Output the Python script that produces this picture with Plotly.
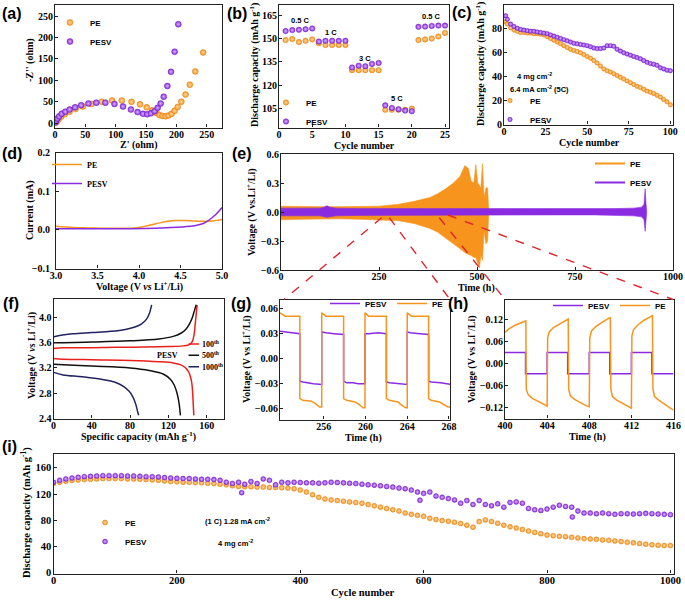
import plotly.graph_objects as go

# ======================= DATA =======================
# (a) Nyquist plots
a_pe_zre = [1, 3, 6, 10, 16, 24, 34, 46, 60, 77, 94, 110, 126, 140, 151, 160, 167, 172, 177, 182, 187, 192, 197, 202, 208, 215, 222, 231, 244]
a_pe_zim = [1, 4, 9, 15, 21, 27, 33, 39, 45, 50, 53, 53, 50, 44, 37, 30, 24, 19, 17, 16, 18, 22, 29, 38, 50, 67, 90, 121, 165]
a_sv_zre = [1, 2, 4, 7, 11, 17, 24, 33, 43, 55, 68, 83, 98, 112, 125, 136, 145, 152, 158, 164, 169, 174, 179, 185, 191, 197, 203]
a_sv_zim = [2, 6, 11, 16, 22, 27, 32, 37, 42, 46, 48, 48, 45, 39, 32, 26, 22, 21, 23, 28, 36, 46, 62, 87, 120, 167, 231]

# (b) rate performance
b_cycle = list(range(1, 26))
b_pe = [149, 149.6, 147.7, 148.5, 149.4, 146.9, 145.8, 145.8, 145.8, 145.8, 129.6, 129.6, 129.6, 129.6, 129.6,
        104, 104, 104, 104, 104.8, 149, 149.4, 150, 151.3, 153.6]
b_sv = [154.8, 155.4, 155.6, 156, 156.5, 148, 148.5, 148.5, 148.5, 148.5, 131.3, 132.5, 132.1, 133.6, 134.2,
        106.9, 105.2, 104.4, 103.5, 103.1, 157.5, 157.7, 158.1, 158.3, 158.3]
b_rate_labels = ['0.5 C', '1 C', '3 C', '5 C', '0.5 C']

# (c) 5C cycling
c_cycle = [1] + list(range(2, 101, 2))
c_pe = [86, 84, 81, 79, 78, 77, 77, 76.5, 76.5, 76, 76, 75.5, 75, 73.5, 72, 70.5, 69, 67.5, 66, 64.5, 63, 62, 61, 60,
        58.5, 57, 55.5, 53.5, 51.5, 49, 46.5, 45, 44, 42.5, 41, 39.5, 38, 36.5, 35, 33.5, 32, 31, 29.5, 28, 27, 26,
        24.5, 23, 21, 19, 16.5]
c_sv = [91, 88, 84, 82, 80.5, 79.5, 79, 78.5, 78, 78, 77.5, 77, 76.5, 76, 75, 74, 73, 72, 71, 70, 69, 68, 67.5, 67,
        66.5, 66, 65, 64, 63.5, 63.5, 64, 66, 66, 65.5, 63, 61.5, 60, 59, 58, 57, 56, 55, 53.5, 52, 51, 50.5, 49.5,
        47.5, 46.5, 45.5, 45]

# (d) LSV
d_pe_v = [3.0, 3.2, 3.4, 3.6, 3.8, 3.95, 4.05, 4.15, 4.25, 4.35, 4.45, 4.55, 4.65, 4.75, 4.85, 4.95, 5.0]
d_pe_i = [0.009, 0.006, 0.005, 0.004, 0.004, 0.005, 0.008, 0.013, 0.018, 0.022, 0.024, 0.024, 0.023, 0.022, 0.022, 0.025, 0.027]
d_sv_v = [3.0, 3.3, 3.6, 3.9, 4.2, 4.4, 4.55, 4.65, 4.72, 4.78, 4.82, 4.86, 4.9, 4.94, 4.97, 5.0]
d_sv_i = [0.003, 0.003, 0.003, 0.003, 0.004, 0.006, 0.008, 0.010, 0.013, 0.017, 0.022, 0.028, 0.035, 0.043, 0.050, 0.058]

# (e) Li||Li voltage envelope (upper / lower bounds)
e_pe_t = [0, 50, 100, 150, 200, 250, 300, 340, 380, 400, 420, 440, 457, 469, 478, 485, 492, 497, 502, 506, 510, 514, 518, 523, 527, 530]
e_pe_hi = [0.06, 0.055, 0.055, 0.055, 0.055, 0.06, 0.08, 0.11, 0.15, 0.19, 0.24, 0.30, 0.37, 0.48, 0.45, 0.32, 0.30, 0.49, 0.30, 0.28, 0.25, 0.50, 0.15, 0.25, 0.25, 0.0]
e_pe_lo = [-0.08, -0.075, -0.07, -0.07, -0.075, -0.08, -0.09, -0.12, -0.17, -0.21, -0.27, -0.33, -0.38, -0.42, -0.44, -0.45, -0.47, -0.47, -0.52, -0.58, -0.45, -0.50, -0.20, -0.33, -0.30, 0.0]
e_sv_t = [0, 50, 100, 110, 117, 125, 140, 200, 300, 400, 500, 600, 700, 800, 850, 900, 920, 926, 929, 931, 933]
e_sv_hi = [0.04, 0.04, 0.04, 0.05, 0.065, 0.05, 0.04, 0.035, 0.035, 0.035, 0.03, 0.03, 0.03, 0.03, 0.035, 0.04, 0.05, 0.08, 0.24, 0.1, 0.0]
e_sv_lo = [-0.04, -0.04, -0.04, -0.05, -0.055, -0.05, -0.04, -0.035, -0.035, -0.035, -0.03, -0.03, -0.03, -0.03, -0.035, -0.04, -0.05, -0.08, -0.20, -0.1, 0.0]

# (f) charge/discharge profiles of PESV
f_100_chg_cap = [0, 10, 40, 80, 120, 135, 142, 145, 147, 148, 149, 150]
f_100_chg_v = [3.51, 3.52, 3.52, 3.53, 3.54, 3.55, 3.57, 3.62, 3.75, 3.9, 4.05, 4.2]
f_100_dis_cap = [0, 10, 40, 80, 110, 125, 133, 138, 141, 143, 144.5, 145.5, 146, 146.5]
f_100_dis_v = [3.35, 3.34, 3.33, 3.32, 3.30, 3.28, 3.25, 3.2, 3.14, 3.06, 2.95, 2.75, 2.6, 2.45]
f_500_chg_cap = [0, 10, 40, 80, 110, 125, 133, 138, 142, 145, 147, 149]
f_500_chg_v = [3.6, 3.6, 3.61, 3.63, 3.66, 3.70, 3.75, 3.81, 3.90, 4.0, 4.1, 4.2]
f_500_dis_cap = [0, 10, 40, 80, 100, 115, 122, 126, 129, 131, 132.5]
f_500_dis_v = [3.26, 3.25, 3.23, 3.2, 3.16, 3.10, 3.02, 2.93, 2.8, 2.65, 2.45]
f_1000_chg_cap = [0, 5, 20, 40, 60, 75, 85, 92, 97, 100, 102.5]
f_1000_chg_v = [3.69, 3.71, 3.74, 3.76, 3.78, 3.81, 3.85, 3.9, 3.97, 4.06, 4.2]
f_1000_dis_cap = [0, 10, 30, 50, 65, 73, 79, 83, 86, 88, 89]
f_1000_dis_v = [3.13, 3.09, 3.06, 3.02, 2.97, 2.91, 2.83, 2.74, 2.62, 2.5, 2.45]
f_labels = ['100<sup>th</sup>', '500<sup>th</sup>', '1000<sup>th</sup>']

# (g) zoom 252-268 h
g_pe_t = [251.8, 252.3, 253.7, 253.7, 254.0, 254.8, 255.2, 255.6, 255.8, 255.8, 256.2, 257.9, 257.9, 258.2, 259.0, 259.4,
          259.75, 259.95, 259.95, 260.3, 262.0, 262.0, 262.3, 263.1, 263.5, 263.85, 264.0, 264.0, 264.4, 266.05, 266.05,
          266.3, 267.1, 267.5, 267.9, 268.3]
g_pe_v = [0.055, 0.051, 0.051, -0.048, -0.05, -0.051, -0.054, -0.058, -0.058, 0.055, 0.051, 0.051, -0.048, -0.05,
          -0.052, -0.055, -0.059, -0.059, 0.055, 0.051, 0.051, -0.048, -0.05, -0.052, -0.056, -0.059, -0.059, 0.055,
          0.051, 0.051, -0.048, -0.05, -0.052, -0.055, -0.058, -0.058]
g_sv_t = [251.8, 252.3, 253.0, 253.7, 253.7, 254.0, 255.0, 255.8, 255.8, 256.2, 257.0, 257.9, 257.9, 258.2, 258.8, 259.3,
          259.95, 259.95, 260.3, 261.2, 262.0, 262.0, 262.3, 263.2, 264.0, 264.0, 264.3, 265.2, 266.05, 266.05, 266.3,
          267.2, 268.3]
g_sv_v = [0.033, 0.032, 0.031, 0.030, -0.027, -0.028, -0.030, -0.031, 0.032, 0.031, 0.030, 0.029, -0.027, -0.029,
          -0.029, -0.030, -0.030, 0.030, 0.030, 0.031, 0.030, -0.028, -0.029, -0.030, -0.031, 0.032, 0.031, 0.030,
          0.029, -0.027, -0.028, -0.029, -0.031]

# (h) zoom 400-416 h
h_pe_t = [400.0, 400.4, 401.0, 401.5, 401.98, 402.02, 402.2, 402.6, 403.2, 403.7, 404.0, 404.05, 404.2, 404.6, 405.2,
          405.7, 406.0, 406.05, 406.2, 406.6, 407.2, 407.7, 408.0, 408.05, 408.2, 408.6, 409.2, 409.7, 410.0, 410.05,
          410.2, 410.6, 411.2, 411.7, 412.0, 412.05, 412.2, 412.6, 413.2, 413.7, 414.0, 414.05, 414.2, 414.6, 415.2,
          415.7, 416.0]
h_pe_v = [0.085, 0.095, 0.105, 0.111, 0.116, -0.07, -0.085, -0.095, -0.105, -0.112, -0.116, 0.07, 0.086, 0.098,
          0.108, 0.116, 0.121, -0.07, -0.088, -0.098, -0.108, -0.115, -0.118, 0.07, 0.088, 0.1, 0.112, 0.12, 0.126,
          -0.07, -0.09, -0.1, -0.11, -0.118, -0.122, 0.075, 0.092, 0.105, 0.118, 0.126, 0.131, -0.07, -0.09, -0.1,
          -0.113, -0.122, -0.127]
h_sv_t = [400.0, 401.95, 401.95, 404.0, 404.0, 405.95, 405.95, 408.0, 408.0, 409.95, 409.95, 412.0, 412.0, 413.95, 413.95, 416.0]
h_sv_v = [0.03, 0.03, -0.028, -0.028, 0.03, 0.03, -0.028, -0.028, 0.03, 0.03, -0.028, -0.028, 0.03, 0.03, -0.028, -0.028]

# (i) long cycling at 1C (every 10th cycle)
i_cycle = list(range(0, 1001, 10))
i_pe = [136, 138, 139.5, 140.5, 141.5, 142, 142.5, 143, 143.5, 143.5,
        143.5, 143.5, 143, 143, 142.5, 142, 141.5, 141, 140, 139,
        138.5, 138, 138, 137.5, 137, 136.5, 136, 135, 134, 132.5,
        131.5, 131, 131, 130.5, 130.5, 130, 130, 129.5, 129, 128,
        126, 123, 119, 115, 112.5, 111, 110, 109, 108, 107,
        106, 104, 102, 100, 98, 96, 94, 91, 89, 87.5,
        86, 83, 81, 79.5, 78.5, 77, 75, 72.5, 69.5, 78,
        80.5, 78, 75.5, 72.5, 70, 68, 66, 63.5, 61.5, 59.5,
        57.5, 56.5, 55.5, 55, 54, 53, 52, 51.5, 51, 50,
        49.5, 48.5, 47.5, 46.5, 45.5, 44.5, 43.5, 42.5, 42, 41.5,
        41.5]
i_sv = [138, 141, 143, 144.5, 145.5, 146.5, 147, 147.5, 148, 148,
        148, 148, 147.5, 147.5, 147, 146.5, 146.5, 146, 145, 144.5,
        144, 143.5, 143.5, 143, 142.5, 142.5, 142, 141, 138, 136,
        138, 135, 139, 136, 143, 141, 134, 138, 137, 138,
        137.5, 137, 137, 136.5, 137, 138, 137.5, 137, 136.5, 136,
        135, 134, 133.5, 132.5, 131.5, 130.5, 129, 128, 126, 123,
        121, 123, 117, 115, 113, 111, 106, 110, 104, 110,
        104, 102, 105, 100, 107, 108, 106, 98, 96, 95,
        97, 100, 103, 101, 100, 94, 91, 91, 90, 91,
        90, 89, 90, 90, 89.5, 90, 90.5, 90, 89.5, 89,
        88.5]
i_sv_out_cycle = [305, 594, 841]
i_sv_out_val = [122, 110.5, 85]

# ======================= STYLE =======================
W, H = 685, 600
OR, OR_L, OR_D = '#F7941D', '#FFD8A6', '#D67608'
PU, PU_L, PU_D = '#8A2BE2', '#D8B4FF', '#6516B0'
RED, BLK, NAVY = '#E8201C', '#111111', '#23235E'
SERIF, SANS = 'Liberation Serif', 'Liberation Sans'


def xd(l, r):
    return [l / W, r / W]


def yd(t, b):
    return [1 - b / H, 1 - t / H]


def sphere(c, light, edge, size):
    return dict(color=c, size=size, gradient=dict(type='radial', color=light), line=dict(color=edge, width=0.4))


layout = dict(width=W, height=H, margin=dict(l=0, r=0, t=0, b=0), paper_bgcolor='white',
              plot_bgcolor='white', showlegend=True)
ann = []


def add_axes(n, box, xr, yr, xt, yt, xtitle, ytitle, xpos, ypos, xfmt='', yfmt='', fs=10, tfs=10, ylstand=-1):
    """xpos / ypos: pixel centres of the x / y axis titles."""
    l, r, t, b = box
    s = '' if n == 1 else str(n)
    common = dict(showline=True, mirror=True, linecolor='#222', linewidth=1.2, ticks='inside', ticklen=3,
                  tickwidth=1, tickcolor='#222', showgrid=False, zeroline=False, automargin=False,
                  tickfont=dict(family=SERIF, size=fs, color='black', weight='bold'))
    tfont = dict(family=SERIF, size=tfs, color='black', weight='bold')
    layout['xaxis' + s] = dict(common, domain=xd(l, r), anchor='y' + s, range=xr, tickmode='array', tickvals=xt,
                               tickformat=xfmt, ticklabelstandoff=-3)
    layout['yaxis' + s] = dict(common, domain=yd(t, b), anchor='x' + s, range=yr, tickmode='array', tickvals=yt,
                               tickformat=yfmt, ticklabelstandoff=ylstand)
    ann.append(dict(text=xtitle, x=xpos[0] / W, y=1 - xpos[1] / H, xref='paper', yref='paper', showarrow=False,
                    xanchor='center', yanchor='middle', font=tfont))
    ann.append(dict(text=ytitle, x=ypos[0] / W, y=1 - ypos[1] / H, xref='paper', yref='paper', showarrow=False,
                    xanchor='center', yanchor='middle', textangle=-90, font=tfont))


CAP = 'Discharge capacity (mAh g<sup>-1</sup>)'
VLI = 'Voltage (V <i>vs</i> Li<sup>+</sup>/Li)'
add_axes(1, (55, 222, 5, 127.5), [0, 275], [-10, 276], [0, 50, 100, 150, 200, 250], [0, 50, 100, 150, 200, 250],
         "Z' (ohm)", "-Z'' (ohm)", (139, 145.5), (30, 60))
add_axes(2, (279, 449, 5, 127.5), [0, 25.6], [92.6, 171.6], [0, 5, 10, 15, 20, 25], [105, 120, 135, 150, 165],
         'Cycle number', CAP, (364, 145.5), (254, 65))
add_axes(3, (504, 673, 5, 124.5), [0, 101.6], [0, 100], [0, 25, 50, 75, 100], [0, 20, 40, 60, 80, 100],
         'Cycle number', CAP, (589, 142.5), (480, 64))
add_axes(4, (56, 222, 152.5, 268.5), [3, 5], [-0.1, 0.2], [3, 3.5, 4, 4.5, 5], [-0.1, 0, 0.1, 0.2],
         VLI, 'Current (mA)', (139, 286.5), (30, 210), xfmt='.1f', yfmt='.1f', ylstand=3)
add_axes(5, (281, 673, 154, 270), [0, 1000], [-0.6, 0.6], [0, 250, 500, 750, 1000], [-0.6, -0.3, 0, 0.3, 0.6],
         'Time (h)', 'Voltage (V vs.Li<sup>+</sup>/Li)', (476, 288), (252, 212), yfmt='.1f')
add_axes(6, (53.5, 223.5, 298.5, 418.5), [0, 177.5], [2.4, 4.3], [0, 40, 80, 120, 160], [2.4, 2.8, 3.2, 3.6, 4.0],
         'Specific capacity (mAh g<sup>-1</sup>)', VLI, (138, 436.5), (31, 356), yfmt='.1f')
add_axes(7, (280, 450, 299.5, 419.5), [251.8, 268.1], [-0.073, 0.071], [256, 260, 264, 268],
         [-0.06, -0.03, 0, 0.03, 0.06], 'Time (h)', 'Voltage (V vs Li<sup>+</sup>/Li)', (363, 437.5), (246, 359),
         yfmt='.2f')
add_axes(8, (505, 673.5, 299.5, 418.5), [400, 416], [-0.15, 0.1745], [400, 404, 408, 412, 416],
         [-0.12, -0.06, 0, 0.06, 0.12], 'Time (h)', 'Voltage (V vs Li<sup>+</sup>/Li)', (587, 436.5), (471, 359),
         yfmt='.2f')
add_axes(9, (53.5, 673.5, 454, 573.5), [0, 1005], [-1.2, 181], [0, 200, 400, 600, 800, 1000],
         [0, 40, 80, 120, 160], 'Cycle number', CAP, (363, 592.5), (26, 513), fs=10.5, tfs=10.5)


def leg(left, top, family=SANS, size=8, orient='v', anchor='left'):
    return dict(x=left / W, y=1 - top / H, xanchor=anchor, yanchor='top', orientation=orient,
                bgcolor='rgba(0,0,0,0)', borderwidth=0, tracegroupgap=0, itemsizing='trace',
                font=dict(family=family, size=size, color='black', weight='bold'))


layout['legend'] = leg(50, 8)
layout['legend2'] = leg(266, 88)
layout['legend3'] = leg(490, 86)
layout['legend4'] = leg(47, 150, family=SERIF)
layout['legend5'] = leg(590, 149)
layout['legend7'] = leg(449, 289, orient='h', anchor='right')
layout['legend8'] = leg(672, 291, orient='h', anchor='right')
layout['legend9'] = leg(85, 508)

fig = go.Figure()

# (a)
fig.add_trace(go.Scatter(x=a_pe_zre, y=a_pe_zim, mode='markers', name='PE', marker=sphere(OR, OR_L, OR_D, 6),
                         xaxis='x', yaxis='y', legend='legend'))
fig.add_trace(go.Scatter(x=a_sv_zre, y=a_sv_zim, mode='markers', name='PESV', marker=sphere(PU, PU_L, PU_D, 6),
                         xaxis='x', yaxis='y', legend='legend'))
# (b)
fig.add_trace(go.Scatter(x=b_cycle, y=b_pe, mode='markers', name='PE', marker=sphere(OR, OR_L, OR_D, 5.5),
                         xaxis='x2', yaxis='y2', legend='legend2'))
fig.add_trace(go.Scatter(x=b_cycle, y=b_sv, mode='markers', name='PESV', marker=sphere(PU, PU_L, PU_D, 5.5),
                         xaxis='x2', yaxis='y2', legend='legend2'))
# (c)
fig.add_trace(go.Scatter(x=c_cycle, y=c_pe, mode='markers', name='PE', marker=sphere(OR, OR_L, OR_D, 4.5),
                         xaxis='x3', yaxis='y3', legend='legend3'))
fig.add_trace(go.Scatter(x=c_cycle, y=c_sv, mode='markers', name='PESV', marker=sphere(PU, PU_L, PU_D, 4.5),
                         xaxis='x3', yaxis='y3', legend='legend3'))
# (d)
fig.add_trace(go.Scatter(x=d_pe_v, y=d_pe_i, mode='lines', name='PE', line=dict(color=OR, width=1.5, shape='spline'),
                         xaxis='x4', yaxis='y4', legend='legend4'))
fig.add_trace(go.Scatter(x=d_sv_v, y=d_sv_i, mode='lines', name='PESV', line=dict(color=PU, width=1.5, shape='spline'),
                         xaxis='x4', yaxis='y4', legend='legend4'))
# (e)
fig.add_trace(go.Scatter(x=e_pe_t + e_pe_t[::-1], y=e_pe_hi + e_pe_lo[::-1], mode='lines', fill='toself',
                         fillcolor=OR, line=dict(color=OR, width=0.6), showlegend=False, xaxis='x5', yaxis='y5',
                         hoverinfo='skip'))
fig.add_trace(go.Scatter(x=e_sv_t + e_sv_t[::-1], y=e_sv_hi + e_sv_lo[::-1], mode='lines', fill='toself',
                         fillcolor=PU, line=dict(color=PU, width=0.6), showlegend=False, xaxis='x5', yaxis='y5',
                         hoverinfo='skip'))
fig.add_trace(go.Scatter(x=[None], y=[None], mode='lines', name='PE', line=dict(color=OR, width=2),
                         xaxis='x5', yaxis='y5', legend='legend5'))
fig.add_trace(go.Scatter(x=[None], y=[None], mode='lines', name='PESV', line=dict(color=PU, width=2),
                         xaxis='x5', yaxis='y5', legend='legend5'))
# (f)
for cx, cy, col in [(f_100_chg_cap, f_100_chg_v, RED), (f_100_dis_cap, f_100_dis_v, RED),
                    (f_500_chg_cap, f_500_chg_v, BLK), (f_500_dis_cap, f_500_dis_v, BLK),
                    (f_1000_chg_cap, f_1000_chg_v, NAVY), (f_1000_dis_cap, f_1000_dis_v, NAVY)]:
    fig.add_trace(go.Scatter(x=cx, y=cy, mode='lines', line=dict(color=col, width=1.5, shape='spline'),
                             showlegend=False, xaxis='x6', yaxis='y6'))
# (g)
fig.add_trace(go.Scatter(x=g_sv_t, y=g_sv_v, mode='lines', name='PESV', line=dict(color=PU, width=1.5),
                         xaxis='x7', yaxis='y7', legend='legend7'))
fig.add_trace(go.Scatter(x=g_pe_t, y=g_pe_v, mode='lines', name='PE', line=dict(color=OR, width=1.5),
                         xaxis='x7', yaxis='y7', legend='legend7'))
# (h)
fig.add_trace(go.Scatter(x=h_sv_t, y=h_sv_v, mode='lines', name='PESV', line=dict(color=PU, width=1.5),
                         xaxis='x8', yaxis='y8', legend='legend8'))
fig.add_trace(go.Scatter(x=h_pe_t, y=h_pe_v, mode='lines', name='PE', line=dict(color=OR, width=1.5),
                         xaxis='x8', yaxis='y8', legend='legend8'))
# (i)
fig.add_trace(go.Scatter(x=i_cycle, y=i_pe, mode='markers', name='PE', marker=sphere(OR, OR_L, OR_D, 5),
                         xaxis='x9', yaxis='y9', legend='legend9'))
fig.add_trace(go.Scatter(x=i_cycle + i_sv_out_cycle, y=i_sv + i_sv_out_val, mode='markers', name='PESV',
                         marker=sphere(PU, PU_L, PU_D, 5), xaxis='x9', yaxis='y9', legend='legend9'))

# ---------- annotations ----------
for lab, px, py in [('(a)', 0, 13), ('(b)', 225, 13), ('(c)', 450, 12), ('(d)', 0, 153), ('(e)', 230, 153),
                    ('(f)', 1, 303), ('(g)', 229, 303), ('(h)', 446, 303), ('(i)', 0, 446)]:
    ann.append(dict(text=lab, x=px / W, y=1 - py / H, xref='paper', yref='paper', xanchor='left', yanchor='middle',
                    showarrow=False, font=dict(family=SANS, size=16, color='black', weight='bold')))

small = dict(family=SANS, size=7.5, color='black', weight='bold')
for lab, x, y in zip(b_rate_labels, [3.2, 7.9, 13, 17.8, 23], [161.3, 153.8, 137.4, 111.2, 164.1]):
    ann.append(dict(text=lab, x=x, y=y, xref='x2', yref='y2', showarrow=False, font=small))
ann.append(dict(text='4 mg cm<sup>-2</sup>', x=18.5, y=40.5, xref='x3', yref='y3', showarrow=False, font=small))
ann.append(dict(text='6.4 mA cm<sup>-2</sup> (5C)', x=21.5, y=29.6, xref='x3', yref='y3', showarrow=False, font=small))
ann.append(dict(text='(1 C) 1.28 mA cm<sup>-2</sup>', x=298, y=79, xref='x9', yref='y9', showarrow=False, font=small))
ann.append(dict(text='4 mg cm<sup>-2</sup>', x=295, y=45, xref='x9', yref='y9', showarrow=False, font=small))

shapes = []
fserif = dict(family=SERIF, size=8, color='black', weight='bold')
for lab, vy, col in zip(f_labels, [3.58, 3.40, 3.22], [RED, BLK, NAVY]):
    shapes.append(dict(type='line', xref='x6', yref='y6', x0=141, x1=152, y0=vy, y1=vy,
                       line=dict(color=col, width=1.5)))
    ann.append(dict(text=lab, x=153, y=vy, xref='x6', yref='y6', xanchor='left', showarrow=False, font=fserif))
ann.append(dict(text='PESV', x=119, y=3.40, xref='x6', yref='y6', showarrow=False, font=fserif))

# red dashed zoom connectors (pixel positions)
for (x0, y0), (x1, y1) in [((381.7, 217.7), (284, 299.5)), ((389.3, 217.7), (450, 299.5)),
                           ((439.3, 217.7), (505, 299.5)), ((448, 215), (673, 299.5))]:
    shapes.append(dict(type='line', xref='paper', yref='paper', x0=x0 / W, y0=1 - y0 / H, x1=x1 / W, y1=1 - y1 / H,
                       line=dict(color='#E0242C', width=1.4, dash='dash'), layer='above'))

layout['annotations'] = ann
layout['shapes'] = shapes
fig.update_layout(**layout)
fig.write_html('out.html', config={'displayModeBar': False},
               post_script="document.body.style.margin='0px';document.body.style.padding='0px';")
